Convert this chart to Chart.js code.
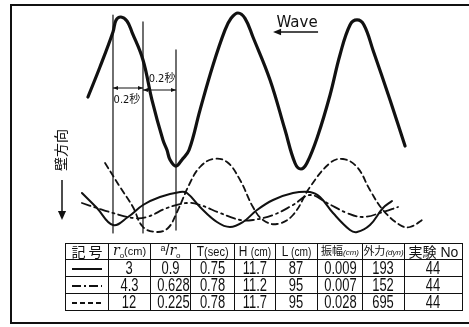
<!DOCTYPE html>
<html>
<head>
<meta charset="utf-8">
<script src="https://cdn.jsdelivr.net/npm/chart.js@4"></script>
<style>
  html, body { margin: 0; padding: 0; background: #fff; }
  #wrap { position: relative; width: 469px; height: 327px; overflow: hidden; }
  #frame { position: absolute; left: 10px; top: 4px; width: 480px; height: 320px; border: 2px solid #111; box-sizing: border-box; }
  canvas { position: absolute; left: 0; top: 0; }
  #tbl { position: absolute; left: 65px; top: 243px; border-collapse: collapse; table-layout: fixed;
         font-family: "Liberation Sans", "DejaVu Sans", sans-serif; color: #111; }
  #tbl td { border: 1.5px solid #111; padding: 0; text-align: center; white-space: nowrap; overflow: hidden; }
  #tbl tr.head td { height: 13px; font-size: 14px; line-height: 13px; }
  #tbl tr.row td { height: 16px; font-size: 18px; line-height: 16px; }
  .num { display: inline-block; transform: scaleX(0.72); transform-origin: center; }
  .hd { display: inline-block; transform: scaleX(0.85); transform-origin: center; }
  .jp { font-family: "Noto Sans CJK JP", sans-serif; }
  .sm { font-size: 8px; font-style: italic; }
  .it { font-style: italic; font-family: "DejaVu Serif", serif; font-size: 14px; }
  .lo { font-size: 8px; position: relative; top: 3px; }
  .hi { font-size: 9px; position: relative; top: -4px; }
</style>
</head>
<body>
<div id="wrap">
  <div id="frame"></div>
  <canvas id="waveChart" width="469" height="327"></canvas>
  <table id="tbl"></table>
</div>
<script>
// time axis in seconds (0 = first marker line), wave elevation in cm,
// response of the three models on their own scale (arbitrary units)
const waveT   = [-0.167, -0.087, 0, 0.02, 0.053, 0.093, 0.127, 0.2, 0.26, 0.333, 0.36, 0.38, 0.42, 0.46, 0.507, 0.58, 0.667, 0.747, 0.787, 0.833, 0.88, 0.933, 1.047, 1.147, 1.213, 1.253, 1.293, 1.367, 1.447, 1.513, 1.58, 1.627, 1.673, 1.733, 1.847, 1.947];
const waveEta = [-0.45, 1.8, 4.43, 5.3, 5.55, 5.25, 4.4, 2.33, -0.68, -3.68, -4.43, -5.15, -5.63, -5.15, -4.43, -1.43, 1.95, 4.58, 5.45, 5.85, 5.45, 4.05, 0.83, -2.93, -5.4, -5.85, -5.4, -3.3, -0.3, 2.7, 4.95, 5.33, 4.95, 3.08, -0.68, -4.13];

const solidT = [-0.207, -0.107, 0, 0.1, 0.2, 0.313, 0.447, 0.493, 0.58, 0.693, 0.78, 0.867, 0.96, 1.067, 1.2, 1.313, 1.38, 1.467, 1.58, 1.627, 1.713, 1.8, 1.86];
const solidR = [1.7, 0.2, -1.5, -0.7, 0.5, 1.3, 1.8, 1.7, 0.3, -1.2, -1.7, -1.2, 0, 1.0, 1.7, 1.8, 1.3, -0.3, -2.0, -2.2, -1.5, 0.2, 0.9];

const dashDotT = [-0.207, -0.107, 0, 0.133, 0.227, 0.36, 0.493, 0.58, 0.713, 0.847, 0.933, 1.067, 1.2, 1.313, 1.427, 1.56, 1.667, 1.8, 1.9];
const dashDotR = [0.7, 0.2, -0.3, -0.8, -0.7, 0.2, 0.7, 0.5, -0.3, -1.0, -1.0, -0.5, 0.5, 1.5, 0.7, -0.3, -0.7, -0.2, 0.3];

const dashedT = [-0.053, 0.047, 0.133, 0.2, 0.293, 0.367, 0.427, 0.513, 0.58, 0.667, 0.76, 0.847, 0.933, 1.0, 1.093, 1.2, 1.313, 1.447, 1.533, 1.627, 1.713, 1.8, 1.913, 1.98, 2.08];
const dashedR = [4.7, 2.3, 0.3, -1.7, -2.2, -1.8, -0.2, 2.7, 4.3, 5.1, 4.8, 3.0, 0.3, -1.0, -1.4, -0.5, 2.3, 4.7, 5.1, 4.3, 2.0, 0, -1.5, -1.7, -0.8];

// marker lines (time, top, bottom in wave cm)
const markerT      = [0, 0.2, 0.42];
const markerTop    = [5.7, 5.18, 3.08];
const markerBottom = [-10.65, -10.65, -10.43];

// table
const tableSymbols = ['solid', 'dashdot', 'dashed'];
const r0        = ['3', '4.3', '12'];
const aOverR0   = ['0.9', '0.628', '0.225'];
const periodSec = ['0.75', '0.78', '0.78'];
const heightCm  = ['11.7', '11.2', '11.7'];
const lengthCm  = ['87', '95', '95'];
const amplitude = ['0.009', '0.007', '0.028'];
const forceDyn  = ['193', '152', '695'];
const runNo     = ['44', '44', '44'];

const colWidths = [43, 42, 40, 44, 41, 42, 45, 42, 58];
const headers = [
    '<span class="jp">記 号</span>',
    '<span class="it">r</span><span class="lo">o</span><span style="font-size:11px">(cm)</span>',
    '<span class="hi">a</span>/<span class="it">r</span><span class="lo">o</span>',
    '<span class="hd">T<span style="font-size:13px">(sec)</span></span>',
    '<span class="hd">H <span style="font-size:12px">(cm)</span></span>',
    '<span class="hd">L <span style="font-size:12px">(cm)</span></span>',
    '<span class="jp" style="font-size:11px">振幅</span><span class="sm">(cm)</span>',
    '<span class="jp" style="font-size:11px">外力</span><span class="sm">(dyn)</span>',
    '<span class="jp">実験</span> No'
];

function symbolSvg(kind) {
    const dash = kind === 'dashed' ? '5,3' : kind === 'dashdot' ? '9,3,2,3' : 'none';
    return '<svg width="32" height="6" style="vertical-align:middle"><line x1="1" y1="3" x2="31" y2="3" stroke="#111" stroke-width="2" stroke-dasharray="' + dash + '"/></svg>';
}

function buildTable() {
    const tbl = document.getElementById('tbl');
    let html = '<colgroup>' + colWidths.map(w => '<col style="width:' + w + 'px">').join('') + '</colgroup>';
    html += '<tr class="head">' + headers.map(h => '<td>' + h + '</td>').join('') + '</tr>';
    for (let i = 0; i < r0.length; i++) {
        const cells = [r0[i], aOverR0[i], periodSec[i], heightCm[i], lengthCm[i], amplitude[i], forceDyn[i], runNo[i]];
        html += '<tr class="row"><td>' + symbolSvg(tableSymbols[i]) + '</td>' +
            cells.map(c => '<td><span class="num">' + c + '</span></td>').join('') + '</tr>';
    }
    tbl.innerHTML = html;
    tbl.style.width = colWidths.reduce((a, b) => a + b, 0) + 'px';
}

function pairs(xs, ys) {
    return xs.map((x, i) => ({ x: x, y: ys[i] }));
}

const ink = '#111';

const datasets = [
    { data: pairs(waveT, waveEta), yAxisID: 'y', borderColor: ink, borderWidth: 3.2 },
    { data: pairs(solidT, solidR), yAxisID: 'y2', borderColor: ink, borderWidth: 2 },
    { data: pairs(dashDotT, dashDotR), yAxisID: 'y2', borderColor: ink, borderWidth: 1.8, borderDash: [9, 4, 2, 4] },
    { data: pairs(dashedT, dashedR), yAxisID: 'y2', borderColor: ink, borderWidth: 1.8, borderDash: [6, 4] }
];
markerT.forEach((t, i) => {
    datasets.push({
        data: [{ x: t, y: markerTop[i] }, { x: t, y: markerBottom[i] }],
        yAxisID: 'y', borderColor: ink, borderWidth: 1.2, tension: 0
    });
});

function arrowHead(ctx, x, y, dir, size) {
    // dir: 1 = pointing right, -1 = left, 2 = down
    ctx.beginPath();
    if (dir === 2) {
        ctx.moveTo(x, y);
        ctx.lineTo(x - size * 0.45, y - size);
        ctx.lineTo(x + size * 0.45, y - size);
    } else {
        ctx.moveTo(x, y);
        ctx.lineTo(x - dir * size, y - size * 0.4);
        ctx.lineTo(x - dir * size, y + size * 0.4);
    }
    ctx.closePath();
    ctx.fill();
}

const annotations = {
    id: 'annotations',
    afterDatasetsDraw(chart) {
        const ctx = chart.ctx;
        const xs = chart.scales.x, ys = chart.scales.y;
        ctx.save();
        ctx.strokeStyle = ink;
        ctx.fillStyle = ink;

        // 0.2 s intervals
        const spans = [[0, 0.2, 0.225, 0.093, -0.675], [0.2, 0.42, 0.075, 0.327, 0.9]];
        ctx.lineWidth = 1;
        ctx.font = '11px "Liberation Sans Narrow", "DejaVu Sans Condensed", "Noto Sans CJK JP", sans-serif';
        ctx.textAlign = 'center';
        ctx.textBaseline = 'middle';
        spans.forEach(s => {
            const x1 = xs.getPixelForValue(s[0]), x2 = xs.getPixelForValue(s[1]);
            const yy = ys.getPixelForValue(s[2]);
            ctx.beginPath();
            ctx.moveTo(x1, yy);
            ctx.lineTo(x2, yy);
            ctx.stroke();
            arrowHead(ctx, x2, yy, 1, 5);
            arrowHead(ctx, x1, yy, -1, 5);
            ctx.fillText('0.2秒', xs.getPixelForValue(s[3]), ys.getPixelForValue(s[4]));
        });

        // Wave direction
        ctx.font = '15px "DejaVu Sans", sans-serif';
        ctx.fillText('Wave', xs.getPixelForValue(1.227), ys.getPixelForValue(5.1));
        const ax1 = xs.getPixelForValue(1.367), ax2 = xs.getPixelForValue(1.067), ay = ys.getPixelForValue(4.425);
        ctx.lineWidth = 1.6;
        ctx.beginPath();
        ctx.moveTo(ax1, ay);
        ctx.lineTo(ax2 + 4, ay);
        ctx.stroke();
        arrowHead(ctx, ax2, ay, -1, 8);

        // vertical axis label: wall direction
        ctx.save();
        ctx.translate(61, 150);
        ctx.rotate(-Math.PI / 2);
        ctx.font = '14px "Noto Sans CJK JP", sans-serif';
        ctx.fillText('壁方向', 0, 0);
        ctx.restore();
        ctx.lineWidth = 1.5;
        ctx.beginPath();
        ctx.moveTo(62, 180);
        ctx.lineTo(62, 212);
        ctx.stroke();
        arrowHead(ctx, 62, 220, 2, 9);
        ctx.restore();
    }
};

new Chart(document.getElementById('waveChart'), {
    type: 'line',
    data: { datasets: datasets },
    options: {
        responsive: false,
        animation: false,
        layout: { padding: 0 },
        elements: {
            point: { radius: 0 },
            line: { tension: 0.4, borderCapStyle: 'round', borderJoinStyle: 'round', fill: false }
        },
        plugins: { legend: { display: false }, tooltip: { enabled: false } },
        scales: {
            x: { type: 'linear', min: -0.7533, max: 2.3733, display: false },
            y: { min: -17.7, max: 6.825, display: false },
            y2: { min: -11.7, max: 21.0, display: false }
        }
    },
    plugins: [annotations]
});

buildTable();
</script>
</body>
</html>
